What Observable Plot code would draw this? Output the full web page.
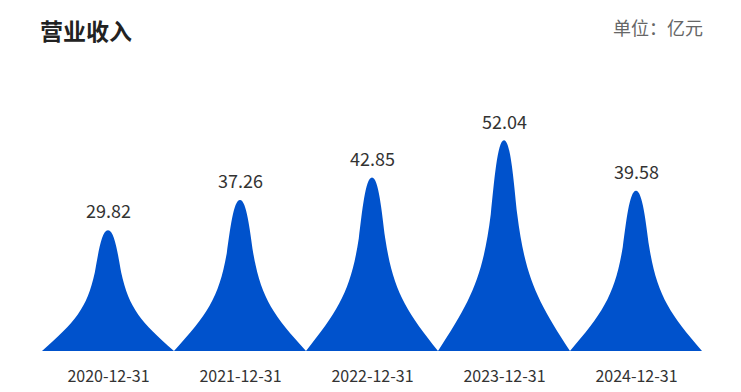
<!DOCTYPE html>
<html><head><meta charset="utf-8">
<script src="https://cdn.jsdelivr.net/npm/d3@7"></script>
<script src="https://cdn.jsdelivr.net/npm/@observablehq/plot@0.6"></script>
<style>
body{margin:0;background:#fff;font-family:"Noto Sans CJK SC","Noto Sans",sans-serif;}
#wrap{position:relative;width:741px;height:392px;overflow:hidden;}
#title{position:absolute;left:40px;top:13px;font-size:23px;font-weight:bold;color:#222;line-height:34px;}
#unit{position:absolute;right:38px;top:12px;font-size:18px;color:#666;line-height:30px;}
#chart{position:absolute;left:0;top:0;}
</style></head>
<body><div id="wrap"><div id="title">营业收入</div><div id="unit">单位：亿元</div><div id="chart"></div></div>
<script>
const dates = ["2020-12-31","2021-12-31","2022-12-31","2023-12-31","2024-12-31"];
const revenue = [29.82, 37.26, 42.85, 52.04, 39.58];
const data = dates.map((d,i)=>({date:d, value:revenue[i]}));

function spike(index, scales, values) {
  const g = d3.create("svg:g");
  const w = scales.x.bandwidth();
  for (const i of index) {
    const x0 = values.x[i], yb = values.y1[i], yt = values.y2[i];
    const X = u => x0 + w*u/10, Y = v => yt + (yb-yt)*v/10;
    const P = (u,v) => `${X(u)},${Y(v)}`;
    const d = `M${P(0,10)}L${P(10,10)}` +
      `C${P(7.5,7.6)} ${P(6.6,6.5)} ${P(6,3.5)}` +
      `C${P(5.745,2)} ${P(5.5,0)} ${P(5,0)}` +
      `C${P(4.5,0)} ${P(4.255,2)} ${P(4,3.5)}` +
      `C${P(3.4,6.5)} ${P(2.5,7.6)} ${P(0,10)}Z`;
    g.append("path").attr("d", d).attr("fill", "#0052cc");
  }
  return g.node();
}

const chart = Plot.plot({
  width: 741, height: 392,
  marginTop: 108, marginBottom: 41, marginLeft: 40, marginRight: 38,
  style: {fontFamily: '"Noto Sans CJK SC","Noto Sans",sans-serif', background: "transparent"},
  x: {domain: dates, padding: 0, label: null},
  y: {domain: [0, 60], axis: null},
  marks: [
    Plot.barY(data, {x: "date", y: "value", render: spike}),
    Plot.text(data, {x: "date", y: "value", text: d => d.value.toFixed(2), dy: -18, fontSize: 18, fill: "#333"}),
    Plot.axisX({tickSize: 0, tickPadding: 19, fontSize: 16, color: "#333", label: null})
  ]
});
document.getElementById("chart").append(chart);
</script></body></html>
